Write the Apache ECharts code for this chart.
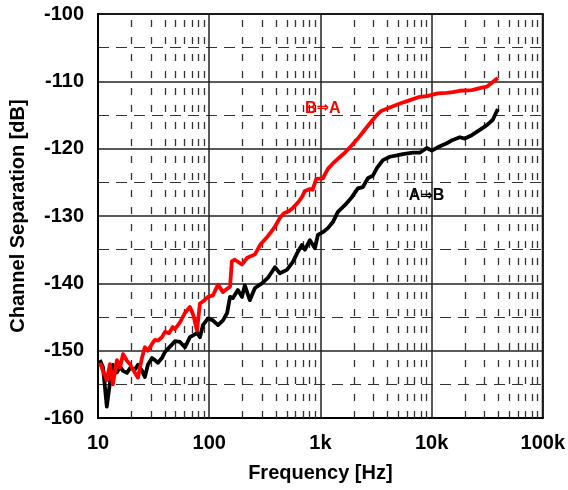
<!DOCTYPE html>
<html>
<head>
<meta charset="utf-8">
<script src="https://cdn.jsdelivr.net/npm/echarts@6/dist/echarts.min.js"></script>
<style>
html,body{margin:0;padding:0;background:#fff;}
#chart{width:568px;height:490px;}
</style>
</head>
<body>
<div id="chart"></div>
<script>
// Frequencies [Hz] and channel separation [dB]
const freqAB = [10.4,11.1,12.0,12.8,13.6,14.8,15.8,16.8,18.2,19.4,21.5,22.9,24.9,26.4,28.1,30.6,32.5,34.6,37.6,40.0,44.4,49.2,54.6,60.5,67.1,77.6,82.6,87.9,97.5,108,120,133,145,154,163,181,197,209,232,258,298,337,390,432,500,566,628,682,726,805,893,950,1053,1168,1296,1437,1660,1919,2173,2411,2673,2965,3221,3648,4217,4875,5521,6784,7834,9057,10040,11370,13700,15520,17940,19900,23000,27170,31400,35560,39450];
const sepAB = [-151.4,-152.5,-158.3,-154.8,-152.1,-153.2,-152.4,-153.0,-153.3,-152.6,-152.8,-152.1,-153.0,-153.9,-152.1,-151.1,-151.4,-151.8,-151.1,-150.2,-149.4,-148.6,-148.7,-149.5,-148.0,-147.4,-148.0,-146.2,-145.2,-145.5,-146.2,-145.5,-144.4,-142.0,-142.2,-141.0,-142.0,-140.3,-142.5,-140.7,-140.0,-139.2,-137.6,-138.5,-138.0,-136.8,-135.3,-134.3,-135.0,-133.6,-134.8,-132.8,-132.4,-131.8,-130.9,-129.4,-128.4,-127.2,-125.9,-125.7,-124.4,-124.0,-122.9,-121.7,-121.2,-121.0,-120.8,-120.6,-120.6,-119.9,-120.3,-119.8,-119.2,-118.7,-118.3,-118.5,-118.0,-117.2,-116.5,-115.7,-114.1];

const freqBA = [10.4,11.1,12.0,12.8,13.6,14.8,15.8,16.8,18.2,19.4,21.5,22.9,24.9,26.4,28.1,30.6,32.5,34.6,37.6,40.0,43.5,47.0,49.2,54.6,60.5,67.1,72.0,77.6,82.6,87.9,97.5,108,120,133,145,154,160,170,197,220,258,290,337,390,432,470,520,566,628,682,726,805,850,920,1053,1168,1296,1437,1660,1919,2173,2560,2965,3221,3520,4217,5200,6120,7834,9057,10040,11370,13700,15520,17940,23000,27170,31400,35560,39450];
const sepBA = [-151.8,-153.0,-154.4,-152.0,-155.0,-151.4,-152.5,-150.5,-151.5,-152.0,-153.3,-154.0,-151.0,-149.5,-150.0,-149.0,-148.4,-148.5,-148.0,-147.2,-147.4,-146.5,-146.8,-145.8,-144.4,-143.5,-144.7,-147.0,-143.0,-142.7,-142.0,-141.8,-140.2,-141.3,-140.8,-140.5,-136.7,-136.5,-137.2,-136.2,-135.7,-134.2,-133.0,-131.6,-130.3,-129.6,-129.3,-128.8,-128.0,-127.2,-126.3,-126.0,-126.1,-124.5,-124.4,-123.0,-122.2,-121.5,-120.6,-119.5,-118.5,-117.0,-115.7,-115.0,-114.4,-113.9,-113.3,-112.9,-112.3,-112.2,-112.0,-111.8,-111.7,-111.6,-111.4,-111.3,-111.0,-110.8,-110.1,-109.5];

const xTicks = [10, 100, 1000, 10000, 100000];
const xTickLabels = ['10', '100', '1k', '10k', '100k'];
const minorFreqs = [20,30,40,50,60,70,80,90,200,300,400,500,600,700,800,900,2000,3000,4000,5000,6000,7000,8000,9000,20000,30000,40000,50000,60000,70000,80000,90000];
const labelAB = {from: 'A', to: 'B', freq: 9000, db: -127};
const labelBA = {from: 'B', to: 'A', freq: 1050, db: -114};

const FONT = '"Liberation Sans", Arial, sans-serif';
const chart = echarts.init(document.getElementById('chart'));

function pairs(xs, ys){ return xs.map((x,i)=>[x, ys[i]]); }
function arrowLabel(lbl, color){
  return {
    show: true, position: 'inside',
    formatter: '{t|' + lbl.from + '}{a|⇒}{t|' + lbl.to + '}',
    rich: {
      t: {fontFamily: FONT, fontSize: 16, fontWeight: 'bold', color: color},
      a: {fontFamily: '"DejaVu Sans"', fontSize: 15, fontWeight: 'bold', color: color}
    }
  };
}

chart.setOption({
  animation: false,
  backgroundColor: '#ffffff',
  grid: {left: 98, top: 14, right: 25, bottom: 72, show: true, borderColor: '#000', borderWidth: 2, backgroundColor: 'transparent'},
  xAxis: {
    type: 'log', logBase: 10, min: 10, max: 100000,
    name: 'Frequency [Hz]', nameLocation: 'middle', nameGap: 45,
    nameTextStyle: {fontFamily: FONT, fontSize: 20, fontWeight: 'bold', color: '#000'},
    axisLine: {lineStyle: {color: '#000', width: 2}},
    axisTick: {show: false},
    axisLabel: {
      margin: 15, fontFamily: FONT, fontSize: 20, fontWeight: 'bold', color: '#000',
      formatter: function(v){ const i = xTicks.findIndex(t => Math.abs(t - v) / t < 1e-6); return i >= 0 ? xTickLabels[i] : ''; }
    },
    splitLine: {show: true, lineStyle: {color: '#222', width: 1.5}}
  },
  yAxis: {
    type: 'value', min: -160, max: -100, interval: 10,
    name: 'Channel Separation [dB]', nameLocation: 'middle', nameGap: 70, nameRotate: 90,
    nameTextStyle: {fontFamily: FONT, fontSize: 20, fontWeight: 'bold', color: '#000'},
    axisLine: {show: true, lineStyle: {color: '#000', width: 2}},
    axisTick: {show: false},
    axisLabel: {margin: 14, fontFamily: FONT, fontSize: 20, fontWeight: 'bold', color: '#000'},
    splitLine: {show: true, lineStyle: {color: '#222', width: 1.5}},
    minorTick: {show: false, splitNumber: 2},
    minorSplitLine: {show: true, lineStyle: {color: '#333', width: 1.2, type: [11, 7]}}
  },
  series: [
    {
      type: 'line', name: 'A⇒B', data: pairs(freqAB, sepAB), showSymbol: false,
      lineStyle: {color: '#000', width: 3.8, join: 'round'}, itemStyle: {color: '#000'},
      z: 3,
      markLine: {
        silent: true, symbol: 'none', label: {show: false},
        lineStyle: {color: '#333', width: 1.3, type: [7, 10]},
        data: minorFreqs.map(f => ({xAxis: f})),
        z: 1
      },
      markPoint: {
        symbol: 'circle', symbolSize: 0,
        label: arrowLabel(labelAB, '#000'),
        data: [{coord: [labelAB.freq, labelAB.db]}]
      }
    },
    {
      type: 'line', name: 'B⇒A', data: pairs(freqBA, sepBA), showSymbol: false,
      lineStyle: {color: '#ff0000', width: 3.8, join: 'round'}, itemStyle: {color: '#ff0000'},
      z: 4,
      markPoint: {
        symbol: 'circle', symbolSize: 0,
        label: arrowLabel(labelBA, '#ff0000'),
        data: [{coord: [labelBA.freq, labelBA.db]}]
      }
    }
  ]
});
</script>
</body>
</html>
